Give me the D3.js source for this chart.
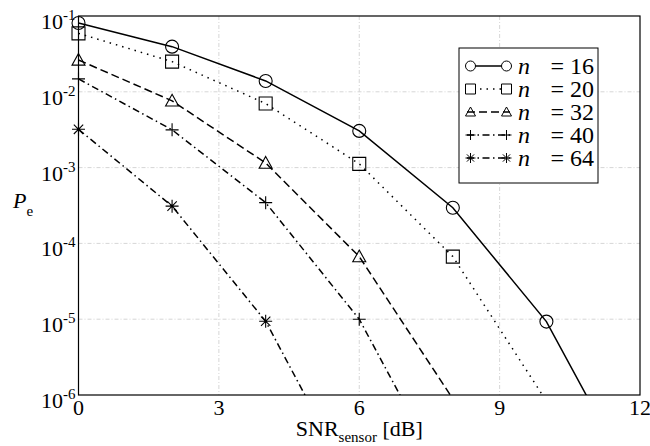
<!DOCTYPE html>
<html>
<head>
<meta charset="utf-8">
<script src="https://cdn.jsdelivr.net/npm/d3@7"></script>
<style>
  svg, svg text, svg tspan { font-family: "Liberation Serif", "Times New Roman", Times, serif !important; }
</style>
</head>
<body style="margin:0">
<script>
const margin = { top: 16, left: 78.5, right: 10, bottom: 51 }
const width = 650 - margin.left - margin.right
const height = 446 - margin.top - margin.bottom

// SNR_sensor [dB] sample points (markers every 2 dB)
const snr = [0, 2, 4, 6, 8, 10, 12]

// error probability (null = off the chart)
const pe16 = [0.081, 0.0394, 0.0139, 0.00305, 2.95e-4, 9.3e-6, 4.9e-8]
const pe20 = [0.059, 0.025, 0.007, 0.00112, 6.7e-5, 8.3e-7, null]
const pe32 = [0.0263, 0.0076, 0.00115, 6.7e-5, 8.9e-7, null, null]
const pe40 = [0.0148, 0.00315, 3.45e-4, 1.0e-5, 5e-8, null, null]
const pe64 = [0.0032, 3.1e-4, 9.4e-6, 4.5e-8, null, null, null]

const seriesNames = ['16', '20', '32', '40', '64']
const seriesValues = [pe16, pe20, pe32, pe40, pe64]
const markers = ['circle', 'square', 'triangle', 'plus', 'asterisk']
const dashes = ['none', '1.5,5', '8,4', '7,3.5,1.5,3.5', '7,3.5,1.5,3.5']

const xTicks = [0, 3, 6, 9, 12]
const yTicks = [-6, -5, -4, -3, -2, -1]

const fontName = 'Liberation Serif'

const svg = d3
  .select('body')
  .append('svg')
  .attr('width', 650)
  .attr('height', 446)
  .style('font-family', `"${fontName}"`)

const g = svg.append('g').attr('transform', `translate(${margin.left},${margin.top})`)

const xScale = d3.scaleLinear().domain([0, 12]).range([0, width])
const yScale = d3.scaleLog().domain([1e-6, 1e-1]).range([height, 0])

svg
  .append('defs')
  .append('clipPath')
  .attr('id', 'plot-clip')
  .append('rect')
  .attr('width', width)
  .attr('height', height)

function addText(parent, size) {
  return parent
    .append('text')
    .style('font-family', `"${fontName}"`)
    .attr('font-size', size)
}

// grid
const gridColor = '#d6d6d6'
g.selectAll('.grid-x')
  .data(xTicks.slice(1, -1))
  .enter()
  .append('line')
  .attr('x1', d => xScale(d))
  .attr('x2', d => xScale(d))
  .attr('y1', 0)
  .attr('y2', height)
  .attr('stroke', gridColor)
  .attr('stroke-dasharray', '4,2,1,2')

g.selectAll('.grid-y')
  .data(yTicks.slice(1, -1))
  .enter()
  .append('line')
  .attr('x1', 0)
  .attr('x2', width)
  .attr('y1', d => yScale(Math.pow(10, d)))
  .attr('y2', d => yScale(Math.pow(10, d)))
  .attr('stroke', gridColor)
  .attr('stroke-dasharray', '4,2,1,2')

// marker paths
function markerPath(type, s) {
  const h = s / 2
  if (type === 'circle') {
    return `M${h},0A${h},${h},0,1,1,${-h},0A${h},${h},0,1,1,${h},0Z`
  }
  if (type === 'square') {
    return `M${-h},${-h}H${h}V${h}H${-h}Z`
  }
  if (type === 'triangle') {
    return `M0,${-h}L${h},${h * 0.8}L${-h},${h * 0.8}Z`
  }
  if (type === 'plus') {
    return `M${-h},0H${h}M0,${-h}V${h}`
  }
  const k = h * 0.72
  return `M${-h},0H${h}M0,${-h}V${h}M${-k},${-k}L${k},${k}M${-k},${k}L${k},${-k}`
}

const line = d3
  .line()
  .defined(d => d.value != null)
  .x(d => xScale(d.snr))
  .y(d => yScale(d.value))

const plot = g.append('g').attr('clip-path', 'url(#plot-clip)')

seriesValues.forEach((values, i) => {
  const points = values.map((v, j) => ({ snr: snr[j], value: v }))

  plot
    .append('path')
    .datum(points)
    .attr('d', line)
    .attr('fill', 'none')
    .attr('stroke', '#000')
    .attr('stroke-width', 1.5)
    .attr('stroke-dasharray', dashes[i])

  g.selectAll('.marker-' + i)
    .data(points.filter(d => d.value != null && d.value >= 1e-6))
    .enter()
    .append('path')
    .attr('transform', d => `translate(${xScale(d.snr)},${yScale(d.value)})`)
    .attr('d', markerPath(markers[i], 13))
    .attr('fill', 'none')
    .attr('stroke', '#000')
    .attr('stroke-width', 1.1)
})

// frame
g.append('rect')
  .attr('width', width)
  .attr('height', height)
  .attr('fill', 'none')
  .attr('stroke', '#000')
  .attr('stroke-width', 1.2)

// x tick labels
xTicks.forEach(t => {
  addText(g, 22)
    .attr('x', xScale(t))
    .attr('y', height + 20)
    .attr('text-anchor', 'middle')
    .text(t)
})

// y tick labels 10^k
yTicks.forEach(t => {
  const label = addText(g, 22)
    .attr('x', -3)
    .attr('y', yScale(Math.pow(10, t)) + 13)
    .attr('text-anchor', 'end')
  label.append('tspan').text('10')
  label
    .append('tspan')
    .attr('font-size', 15)
    .attr('dy', -9)
    .text(t)
})

// axis titles
const xTitle = addText(g, 22)
  .attr('x', xScale(6))
  .attr('y', height + 41)
  .attr('text-anchor', 'middle')
xTitle.append('tspan').text('SNR')
xTitle
  .append('tspan')
  .attr('font-size', 15)
  .attr('dy', 6)
  .text('sensor')
xTitle
  .append('tspan')
  .attr('dy', -6)
  .text(' [dB]')

const yTitle = addText(svg, 22)
  .attr('x', 13)
  .attr('y', 208)
yTitle
  .append('tspan')
  .attr('font-style', 'italic')
  .text('P')
yTitle
  .append('tspan')
  .attr('font-size', 15)
  .attr('dy', 8)
  .text('e')

// legend
const legend = svg.append('g').attr('transform', 'translate(459,48)')

legend
  .append('rect')
  .attr('width', 139)
  .attr('height', 135)
  .attr('fill', '#fff')
  .attr('stroke', '#000')
  .attr('stroke-width', 1)

seriesNames.forEach((name, i) => {
  const row = legend.append('g').attr('transform', `translate(0,${18 + i * 23})`)

  row
    .append('line')
    .attr('x1', 8)
    .attr('x2', 51)
    .attr('stroke', '#000')
    .attr('stroke-width', 1.5)
    .attr('stroke-dasharray', dashes[i])

  row
    .selectAll('.legend-marker')
    .data([11.5, 47.5])
    .enter()
    .append('path')
    .attr('transform', d => `translate(${d},0)`)
    .attr('d', markerPath(markers[i], 10))
    .attr('fill', markers[i] === 'circle' || markers[i] === 'square' ? '#fff' : 'none')
    .attr('stroke', '#000')
    .attr('stroke-width', 1)

  addText(row, 24)
    .attr('x', 59)
    .attr('y', 8)
    .attr('font-style', 'italic')
    .text('n')

  addText(row, 24)
    .attr('x', 135)
    .attr('y', 8)
    .attr('text-anchor', 'end')
    .text('= ' + name)
})
</script>
</body>
</html>
